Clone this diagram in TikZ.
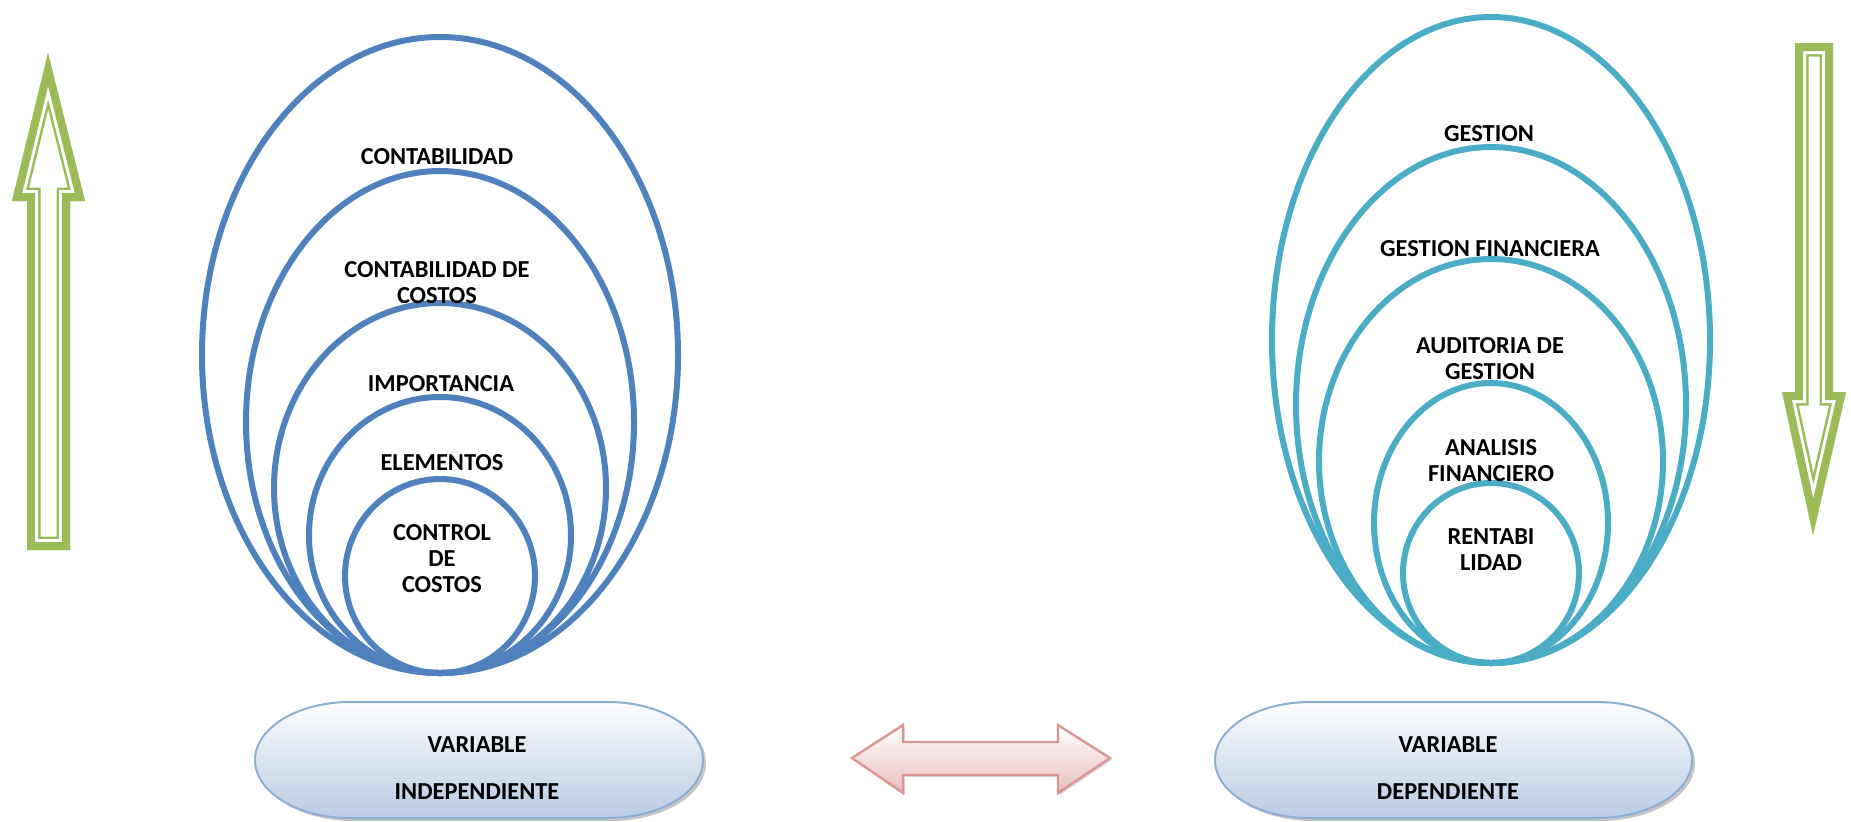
\documentclass[tikz,border=0pt]{standalone}
\usepackage{fontspec}
\setmainfont{Carlito}
\usetikzlibrary{shadows}

\definecolor{azul}{HTML}{4F81BD}
\definecolor{aqua}{HTML}{4BACC6}
\definecolor{verde}{HTML}{9BBB59}
\definecolor{rosa}{HTML}{D99694}
\definecolor{rosaclaro}{HTML}{E8BFBE}
\definecolor{celeste}{HTML}{B8CCE4}
\definecolor{bordecel}{HTML}{8FAED6}

% flecha verde con linea doble (gruesa fuera, fina dentro)
\newcommand{\flechaverde}[1]{%
  \begin{scope}
    \clip #1;
    \draw[verde, line width=13.5pt] #1;
    \draw[white, line width=11pt] #1;
    \draw[verde, line width=8pt] #1;
  \end{scope}}

\begin{document}
\begin{tikzpicture}[x=0.5pt, y=-0.5pt,
  font=\bfseries\fontsize{12.2}{13}\selectfont,
  capa/.style={line width=3pt},
  etiqueta/.style={align=center, inner sep=0pt},
  pastilla/.style={draw=bordecel, line width=1pt, top color=white!96!celeste,
    bottom color=celeste, drop shadow={shadow xshift=1.5pt, shadow yshift=-1.5pt, opacity=0.45}},
  doble/.style={draw=rosa, line width=1.2pt, top color=white, bottom color=rosaclaro,
    drop shadow={shadow xshift=1pt, shadow yshift=-1pt, opacity=0.3}}]
  \useasboundingbox (0,0) rectangle (1851,821);

  % variable independiente
  \foreach \rx/\ry in {238/318, 194/251, 166/185, 131/138, 95/97}
    \draw[capa, azul] (440, {673-\ry}) ellipse [x radius=\rx, y radius=\ry];
  \node[etiqueta] (ccont) at (437,157) {CONTABILIDAD};
  \node[etiqueta] (ccost) at (437,283) {CONTABILIDAD DE\\COSTOS};
  \node[etiqueta] (cimp)  at (441,384) {IMPORTANCIA};
  \node[etiqueta] (celem) at (442,463) {ELEMENTOS};
  \node[etiqueta] (cctrl) at (442,559) {CONTROL\\DE\\COSTOS};

  % variable dependiente
  \foreach \rx/\ry in {219/323, 195/258, 172/202, 117/140, 88/90}
    \draw[capa, aqua] (1491, {663-\ry}) ellipse [x radius=\rx, y radius=\ry];
  \node[etiqueta] (gest)  at (1489,134) {GESTION};
  \node[etiqueta] (gfin)  at (1490,249) {GESTION FINANCIERA};
  \node[etiqueta] (gaud)  at (1490,359) {AUDITORIA DE\\GESTION};
  \node[etiqueta] (ganal) at (1491,461) {ANALISIS\\FINANCIERO};
  \node[etiqueta] (grent) at (1491,550) {RENTABI\\LIDAD};

  % flechas verdes
  \flechaverde{(48,53) -- (85,201) -- (70,201) -- (70,550) -- (27,550) -- (27,201) -- (12,201) -- cycle}
  \flechaverde{(1795,43) -- (1833,43) -- (1833,392) -- (1846,392) -- (1813,535) -- (1782,392) -- (1795,392) -- cycle}

  % pastillas de abajo
  \draw[pastilla] (350,702) -- (608,702) arc[start angle=-90, end angle=90, x radius=95, y radius=58]
    -- (350,818) arc[start angle=90, end angle=270, x radius=95, y radius=58] -- cycle;
  \node[etiqueta] (vind) at (477,768) {VARIABLE\\[10.5pt]INDEPENDIENTE};

  \draw[pastilla] (1310,702) -- (1597,702) arc[start angle=-90, end angle=90, x radius=95, y radius=58]
    -- (1310,818) arc[start angle=90, end angle=270, x radius=95, y radius=58] -- cycle;
  \node[etiqueta] (vdep) at (1448,768) {VARIABLE\\[10.5pt]DEPENDIENTE};

  % relacion entre variables
  \draw[doble] (852,758) -- (903,725) -- (903,742) -- (1058,742) -- (1058,725) -- (1110,758)
    -- (1058,793) -- (1058,775) -- (903,775) -- (903,793) -- cycle;
\end{tikzpicture}
\end{document}
